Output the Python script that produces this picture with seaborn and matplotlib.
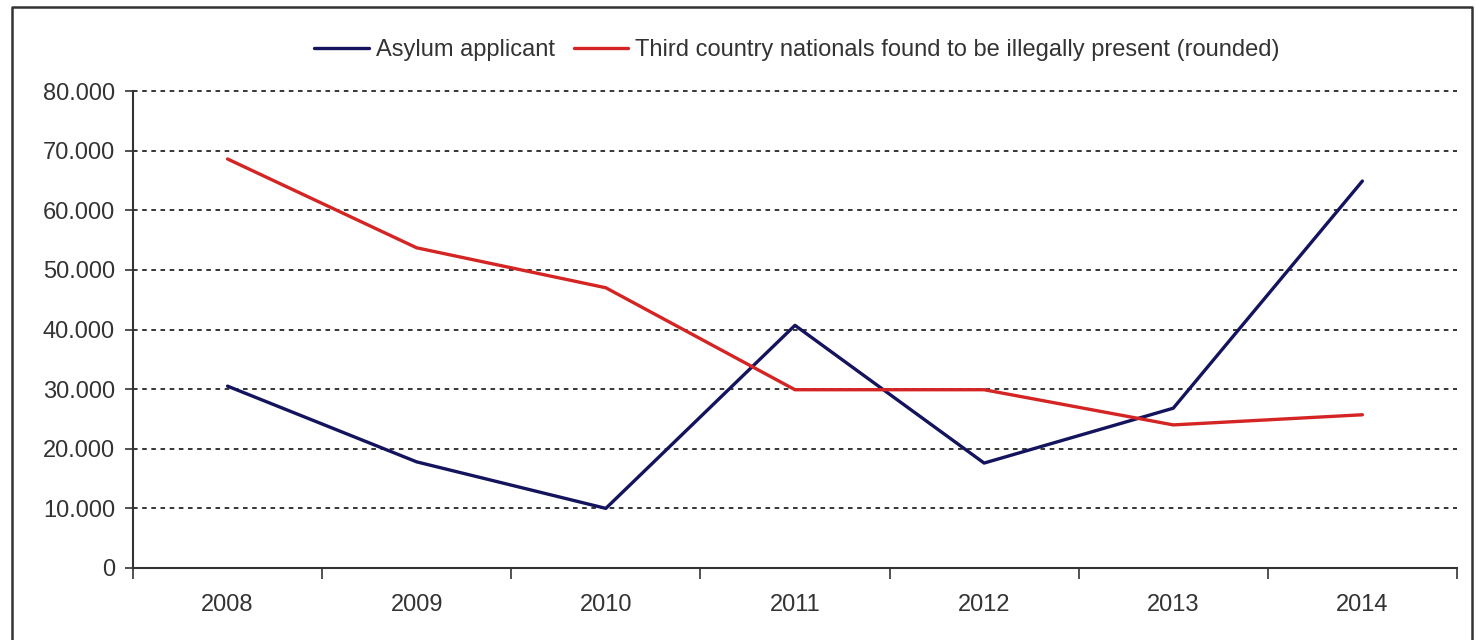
import matplotlib
matplotlib.use("Agg")
import matplotlib.pyplot as plt
import matplotlib.ticker as mticker
import pandas as pd
import seaborn as sns

years = ["2008", "2009", "2010", "2011", "2012", "2013", "2014"]
asylum = [30500, 17800, 10000, 40700, 17600, 26800, 64900]
illegal = [68600, 53700, 47000, 29900, 29900, 24000, 25700]
series_names = [
    "Asylum applicant",
    "Third country nationals found to be illegally present (rounded)",
]
y_ticks = [0, 10000, 20000, 30000, 40000, 50000, 60000, 70000, 80000]

df = pd.DataFrame({
    "year": years * 2,
    "pos": list(range(len(years))) * 2,
    "value": asylum + illegal,
    "series": [series_names[0]] * len(years) + [series_names[1]] * len(years),
})

sns.set_style("white")
plt.rcParams["font.family"] = ["Liberation Sans", "DejaVu Sans"]

fig = plt.figure(figsize=(14.76, 6.4), dpi=100)
ax = fig.add_axes([0.0901, 0.1125, 0.897, 0.7453])

sns.lineplot(
    data=df, x="pos", y="value", hue="series",
    palette=["#14145e", "#d42424"], linewidth=2.4, ax=ax, legend=False,
)

ax.set_xlim(-0.5, len(years) - 0.5)
ax.set_ylim(0, 80000)
ax.set_yticks(y_ticks)
ax.yaxis.set_major_formatter(
    mticker.FuncFormatter(lambda v, p: f"{int(v):,}".replace(",", "."))
)
ax.set_xticks(range(len(years)))
ax.set_xticklabels(years)
ax.set_xticks([i - 0.5 for i in range(len(years) + 1)], minor=True)
ax.tick_params(axis="x", which="major", bottom=False, pad=15, labelsize=17,
               labelcolor="#333333")
ax.tick_params(axis="x", which="minor", bottom=True, length=8, width=1.2,
               color="#333333", direction="out")
ax.tick_params(axis="y", left=True, length=6, width=1.2, color="#333333",
               labelsize=17, labelcolor="#333333", pad=7, direction="out")
ax.set_xlabel("")
ax.set_ylabel("")

for v in y_ticks[1:]:
    ax.axhline(v, color="black", linewidth=1.1, linestyle=(0, (3, 3)),
               zorder=0, clip_on=False)

for s in ["top", "right"]:
    ax.spines[s].set_visible(False)
for s in ["left", "bottom"]:
    ax.spines[s].set_color("#333333")
    ax.spines[s].set_linewidth(1.5)

handles = [plt.Line2D([], [], color=c, linewidth=2.4) for c in ["#14145e", "#d42424"]]
fig.legend(
    handles, series_names, loc="center", bbox_to_anchor=(0.54, 0.922), ncol=2,
    frameon=False, fontsize=17, handlelength=2.3, handletextpad=0.3,
    columnspacing=0.8, labelcolor="#333333",
)

# outer frame (left, top, right)
frame_x = [12 / 1476, 12 / 1476, 1472 / 1476, 1472 / 1476]
frame_y = [-0.01, 1 - 7 / 640, 1 - 7 / 640, -0.01]
fig.add_artist(plt.Line2D(frame_x, frame_y, color="#333333", linewidth=1.8,
                          transform=fig.transFigure))

fig.savefig("out.png", dpi=100, facecolor="white")
